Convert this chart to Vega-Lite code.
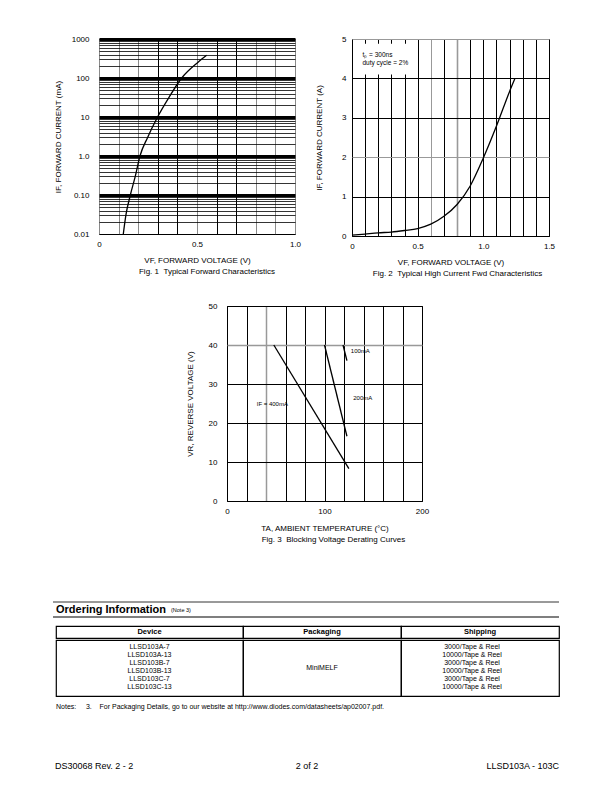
{
  "$schema": "https://vega.github.io/schema/vega-lite/v6.json",
  "background": "white",
  "padding": {"left": 52, "top": 34, "right": 10, "bottom": 10},
  "spacing": 0,
  "config": {
    "font": "Liberation Sans",
    "view": {"stroke": null},
    "concat": {"spacing": 0},
    "axis": {"labelFont": "Liberation Sans", "titleFont": "Liberation Sans", "labelFontSize": 8, "titleFontSize": 8, "titleFontWeight": "normal", "labelColor": "#000", "titleColor": "#000", "ticks": false, "domain": false, "grid": true, "gridColor": "#000", "gridOpacity": 1, "gridWidth": 1, "labelOverlap": false, "labelFlush": false, "labelBound": false},
    "title": {"font": "Liberation Sans", "fontSize": 8, "fontWeight": "normal", "color": "#000"},
    "text": {"font": "Liberation Sans", "color": "#000"}
  },
  "datasets": {
    "fig1": [
      {"vf": 0.124, "if_ma": 0.01},
      {"vf": 0.137, "if_ma": 0.03},
      {"vf": 0.16, "if_ma": 0.1},
      {"vf": 0.185, "if_ma": 0.3},
      {"vf": 0.209, "if_ma": 1},
      {"vf": 0.248, "if_ma": 3},
      {"vf": 0.299, "if_ma": 10},
      {"vf": 0.354, "if_ma": 30},
      {"vf": 0.422, "if_ma": 100},
      {"vf": 0.504, "if_ma": 250},
      {"vf": 0.549, "if_ma": 381}
    ],
    "fig2": [
      {"vf": 0, "if_a": 0.02},
      {"vf": 0.1, "if_a": 0.05},
      {"vf": 0.2, "if_a": 0.08},
      {"vf": 0.3, "if_a": 0.1},
      {"vf": 0.4, "if_a": 0.14},
      {"vf": 0.5, "if_a": 0.19},
      {"vf": 0.6, "if_a": 0.3},
      {"vf": 0.7, "if_a": 0.5},
      {"vf": 0.8, "if_a": 0.8},
      {"vf": 0.9, "if_a": 1.27},
      {"vf": 1.0, "if_a": 1.98},
      {"vf": 1.1, "if_a": 2.79},
      {"vf": 1.2, "if_a": 3.67},
      {"vf": 1.24, "if_a": 3.99}
    ],
    "fig2notes": [
      {"vf": 0.08, "if_a": 4.6, "note": "t\u209a = 300ns"},
      {"vf": 0.08, "if_a": 4.4, "note": "duty cycle = 2%"}
    ],
    "fig3": [
      {"ta": 48, "vr": 40, "current": "400mA"},
      {"ta": 125, "vr": 8.3, "current": "400mA"},
      {"ta": 100, "vr": 40, "current": "200mA"},
      {"ta": 123, "vr": 16.6, "current": "200mA"},
      {"ta": 119, "vr": 40, "current": "100mA"},
      {"ta": 123, "vr": 36, "current": "100mA"}
    ],
    "fig3labels": [
      {"ta": 127, "vr": 38.4, "label": "100mA"},
      {"ta": 129.5, "vr": 26.5, "label": "200mA"},
      {"ta": 30.5, "vr": 24.9, "label": "IF = 400mA"}
    ],
    "devices": [
      {"row": 1, "device": "LLSD103A-7", "shipping": "3000/Tape & Reel"},
      {"row": 2, "device": "LLSD103A-13", "shipping": "10000/Tape & Reel"},
      {"row": 3, "device": "LLSD103B-7", "shipping": "3000/Tape & Reel"},
      {"row": 4, "device": "LLSD103B-13", "shipping": "10000/Tape & Reel"},
      {"row": 5, "device": "LLSD103C-7", "shipping": "3000/Tape & Reel"},
      {"row": 6, "device": "LLSD103C-13", "shipping": "10000/Tape & Reel"}
    ],
    "footer": [
      {"slot": "left", "text": "DS30068 Rev. 2 - 2"},
      {"slot": "center", "text": "2 of 2"},
      {"slot": "right", "text": "LLSD103A - 103C"}
    ],
    "blank": [{}],
    "none": []
  },
  "vconcat": [
    {
      "bounds": "flush",
      "spacing": 0,
      "hconcat": [
        {"width": 46, "height": 1, "data": {"name": "none"}, "mark": {"type": "text", "text": ""}, "encoding": {}},
        {
          "width": 196,
          "height": 195,
          "view": {"stroke": "#000", "strokeWidth": 1},
          "title": {"text": "Fig. 1\u00a0\u00a0Typical Forward Characteristics", "orient": "bottom", "anchor": "middle", "frame": "group", "offset": 4, "dx": 10},
          "data": {"name": "fig1"},
          "mark": {"type": "line", "color": "#000", "strokeWidth": 1.3, "interpolate": "monotone"},
          "encoding": {
            "x": {
              "field": "vf", "type": "quantitative",
              "scale": {"domain": [0, 1], "nice": false, "zero": false},
              "axis": {
                "values": [0, 0.1, 0.2, 0.3, 0.4, 0.5, 0.6, 0.7, 0.8, 0.9, 1],
                "labelExpr": "datum.value == 0 ? '0' : datum.value == 0.5 ? '0.5' : datum.value == 1 ? '1.0' : ''",
                "labelPadding": 6,
                "title": "VF, FORWARD VOLTAGE (V)",
                "titlePadding": 8,
                "gridColor": {"condition": {"test": "datum.value == 0.3 || datum.value == 0.4 || datum.value == 0.6 || datum.value == 0.7", "value": "#000"}, "value": "#8a8a8a"},
                "gridWidth": 1
              }
            },
            "y": {
              "field": "if_ma", "type": "quantitative",
              "scale": {"type": "log", "domain": [0.01, 1000], "nice": false},
              "axis": {
                "values": [0.01, 0.02, 0.03, 0.04, 0.05, 0.06, 0.07, 0.08, 0.09, 0.1, 0.2, 0.3, 0.4, 0.5, 0.6, 0.7, 0.8, 0.9, 1, 2, 3, 4, 5, 6, 7, 8, 9, 10, 20, 30, 40, 50, 60, 70, 80, 90, 100, 200, 300, 400, 500, 600, 700, 800, 900, 1000],
                "labelExpr": "datum.value == 1000 ? '1000' : datum.value == 100 ? '100' : datum.value == 10 ? '10' : datum.value == 1 ? '1.0' : datum.value == 0.1 ? '0.10' : datum.value == 0.01 ? '0.01' : ''",
                "labelPadding": 10,
                "title": "IF, FORWARD CURRENT (mA)",
                "titlePadding": 9,
                "gridWidth": {"condition": {"test": "datum.value == 0.1 || datum.value == 1 || datum.value == 10 || datum.value == 100 || datum.value == 1000", "value": 3}, "value": 0.8}
              }
            }
          }
        },
        {"width": 57, "height": 1, "data": {"name": "none"}, "mark": {"type": "text", "text": ""}, "encoding": {}},
        {
          "width": 197,
          "height": 197,
          "view": {"stroke": "#000", "strokeWidth": 1},
          "title": {"text": "Fig. 2\u00a0\u00a0Typical High Current Fwd Characteristics", "orient": "bottom", "anchor": "middle", "frame": "group", "offset": 4, "dx": 7},
          "encoding": {
            "x": {
              "field": "vf", "type": "quantitative",
              "scale": {"domain": [0, 1.5], "nice": false, "zero": false},
              "axis": {
                "values": [0, 0.1, 0.2, 0.3, 0.4, 0.5, 0.6, 0.7, 0.8, 0.9, 1, 1.1, 1.2, 1.3, 1.4, 1.5],
                "labelExpr": "datum.value == 0 ? '0' : datum.value == 0.5 ? '0.5' : datum.value == 1 ? '1.0' : datum.value == 1.5 ? '1.5' : ''",
                "labelPadding": 6,
                "title": "VF, FORWARD VOLTAGE (V)",
                "titlePadding": 8,
                "gridColor": {"condition": {"test": "datum.value == 0.6 || datum.value == 0.8", "value": "#999"}, "value": "#000"},
                "gridWidth": {"condition": {"test": "datum.value == 0.8", "value": 1.6}, "value": 1}
              }
            },
            "y": {
              "field": "if_a", "type": "quantitative",
              "scale": {"domain": [0, 5], "nice": false},
              "axis": {
                "values": [0, 1, 2, 3, 4, 5],
                "labelPadding": 6,
                "title": "IF, FORWARD CURRENT (A)",
                "titlePadding": 18,
                "gridColor": {"condition": {"test": "datum.value == 2 || datum.value == 5", "value": "#999"}, "value": "#000"}
              }
            }
          },
          "layer": [
            {
              "data": {"name": "fig2"},
              "mark": {"type": "line", "color": "#000", "strokeWidth": 1.3, "interpolate": "monotone"}
            },
            {
              "data": {"values": [{"vf": 0.02, "vf_end": 0.46, "if_a": 4.1, "if_end": 4.88}]},
              "mark": {"type": "rect", "color": "white"},
              "encoding": {"x2": {"field": "vf_end"}, "y2": {"field": "if_end"}}
            },
            {
              "data": {"name": "fig2notes"},
              "mark": {"type": "text", "fontSize": 6.5, "align": "left", "baseline": "middle"},
              "encoding": {"text": {"field": "note"}}
            }
          ]
        }
      ]
    },
    {"width": 1, "height": 22, "view": {"fill": "white"}, "data": {"name": "none"}, "mark": {"type": "text", "text": ""}, "encoding": {}},
    {
      "bounds": "flush",
      "spacing": 0,
      "hconcat": [
        {"width": 174, "height": 1, "data": {"name": "none"}, "mark": {"type": "text", "text": ""}, "encoding": {}},
        {
          "width": 195,
          "height": 195,
          "view": {"stroke": "#000", "strokeWidth": 1},
          "title": {"text": "Fig. 3\u00a0\u00a0Blocking Voltage Derating Curves", "orient": "bottom", "anchor": "middle", "frame": "group", "offset": 4, "dx": 9},
          "encoding": {
            "x": {
              "field": "ta", "type": "quantitative",
              "scale": {"domain": [0, 200], "nice": false},
              "axis": {
                "values": [0, 20, 40, 60, 80, 100, 120, 140, 160, 180, 200],
                "labelExpr": "datum.value % 100 == 0 ? datum.label : ''",
                "labelPadding": 6,
                "title": "TA, AMBIENT TEMPERATURE (°C)",
                "titlePadding": 9,
                "gridColor": {"condition": {"test": "datum.value == 40", "value": "#999"}, "value": "#000"},
                "gridWidth": {"condition": {"test": "datum.value == 40", "value": 1.5}, "value": 1}
              }
            },
            "y": {
              "field": "vr", "type": "quantitative",
              "scale": {"domain": [0, 50], "nice": false},
              "axis": {
                "values": [0, 10, 20, 30, 40, 50],
                "labelPadding": 10,
                "title": "VR, REVERSE VOLTAGE (V)",
                "titlePadding": 14,
                "gridColor": {"condition": {"test": "datum.value == 40", "value": "#999"}, "value": "#000"},
                "gridWidth": {"condition": {"test": "datum.value == 40", "value": 1.5}, "value": 1}
              }
            }
          },
          "layer": [
            {
              "data": {"name": "fig3"},
              "mark": {"type": "line", "color": "#000", "strokeWidth": 1.3},
              "encoding": {"detail": {"field": "current", "type": "nominal"}}
            },
            {
              "data": {"name": "fig3labels"},
              "mark": {"type": "text", "fontSize": 6, "align": "left", "baseline": "middle"},
              "encoding": {"text": {"field": "label"}}
            }
          ]
        }
      ]
    },
    {"width": 1, "height": 56, "view": {"fill": "white"}, "data": {"name": "none"}, "mark": {"type": "text", "text": ""}, "encoding": {}},
    {
      "width": 506,
      "height": 15,
      "data": {"name": "blank"},
      "layer": [
        {"mark": {"type": "rule", "strokeWidth": 0.8, "color": "#000"}, "encoding": {"y": {"value": 0}}},
        {"mark": {"type": "rule", "strokeWidth": 1.2, "color": "#000"}, "encoding": {"y": {"value": "height"}}},
        {"mark": {"type": "text", "text": "Ordering Information", "fontWeight": "bold", "fontSize": 11, "align": "left", "baseline": "middle", "x": 3}, "encoding": {"y": {"datum": "mid", "type": "nominal", "scale": {"type": "point", "padding": 0.5}, "axis": null}}},
        {"mark": {"type": "text", "text": "(Note 3)", "fontSize": 5.5, "align": "left", "baseline": "middle", "x": 118}, "encoding": {"y": {"datum": "mid", "type": "nominal", "scale": {"type": "point", "padding": 0.5}, "axis": null}}}
      ]
    },
    {"width": 1, "height": 7, "view": {"fill": "white"}, "data": {"name": "none"}, "mark": {"type": "text", "text": ""}, "encoding": {}},
    {
      "bounds": "flush",
      "spacing": 0,
      "hconcat": [
        {"width": 3, "height": 1, "data": {"name": "none"}, "mark": {"type": "text", "text": ""}, "encoding": {}},
        {"width": 187, "height": 12, "view": {"stroke": "#000", "strokeWidth": 1.2}, "data": {"values": [{"label": "Device"}]}, "mark": {"type": "text", "fontWeight": "bold", "fontSize": 7.5, "align": "center", "baseline": "middle"}, "encoding": {"x": {"field": "label", "type": "nominal", "scale": {"type": "point", "padding": 0.5}, "axis": null}, "y": {"field": "label", "type": "nominal", "scale": {"type": "point", "padding": 0.5}, "axis": null}, "text": {"field": "label"}}},
        {"width": 158, "height": 12, "view": {"stroke": "#000", "strokeWidth": 1.2}, "data": {"values": [{"label": "Packaging"}]}, "mark": {"type": "text", "fontWeight": "bold", "fontSize": 7.5, "align": "center", "baseline": "middle"}, "encoding": {"x": {"field": "label", "type": "nominal", "scale": {"type": "point", "padding": 0.5}, "axis": null}, "y": {"field": "label", "type": "nominal", "scale": {"type": "point", "padding": 0.5}, "axis": null}, "text": {"field": "label"}}},
        {"width": 158, "height": 12, "view": {"stroke": "#000", "strokeWidth": 1.2}, "data": {"values": [{"label": "Shipping"}]}, "mark": {"type": "text", "fontWeight": "bold", "fontSize": 7.5, "align": "center", "baseline": "middle"}, "encoding": {"x": {"field": "label", "type": "nominal", "scale": {"type": "point", "padding": 0.5}, "axis": null}, "y": {"field": "label", "type": "nominal", "scale": {"type": "point", "padding": 0.5}, "axis": null}, "text": {"field": "label"}}}
      ]
    },
    {
      "bounds": "flush",
      "spacing": 0,
      "hconcat": [
        {"width": 3, "height": 1, "data": {"name": "none"}, "mark": {"type": "text", "text": ""}, "encoding": {}},
        {
          "width": 187, "height": 56,
          "view": {"stroke": "#000", "strokeWidth": 1.2},
          "data": {"name": "devices"},
          "mark": {"type": "text", "fontSize": 7, "align": "center", "baseline": "middle"},
          "encoding": {
            "x": {"datum": "Device", "type": "nominal", "scale": {"type": "point", "padding": 0.5}, "axis": null},
            "y": {"field": "row", "type": "ordinal", "scale": {"type": "point", "padding": 1.3, "align": 0.45}, "axis": null},
            "text": {"field": "device"}
          }
        },
        {
          "width": 158, "height": 56,
          "view": {"stroke": "#000", "strokeWidth": 1.2},
          "data": {"values": [{"packaging": "MiniMELF"}]},
          "mark": {"type": "text", "fontSize": 7, "align": "center", "baseline": "middle"},
          "encoding": {
            "x": {"field": "packaging", "type": "nominal", "scale": {"type": "point", "padding": 0.5}, "axis": null},
            "y": {"field": "packaging", "type": "nominal", "scale": {"type": "point", "padding": 0.5}, "axis": null},
            "text": {"field": "packaging"}
          }
        },
        {
          "width": 158, "height": 56,
          "view": {"stroke": "#000", "strokeWidth": 1.2},
          "data": {"name": "devices"},
          "mark": {"type": "text", "fontSize": 7, "align": "center", "baseline": "middle", "dx": -8},
          "encoding": {
            "x": {"datum": "Shipping", "type": "nominal", "scale": {"type": "point", "padding": 0.5}, "axis": null},
            "y": {"field": "row", "type": "ordinal", "scale": {"type": "point", "padding": 1.3, "align": 0.45}, "axis": null},
            "text": {"field": "shipping"}
          }
        }
      ]
    },
    {
      "bounds": "flush",
      "spacing": 0,
      "hconcat": [
        {"width": 3, "height": 1, "data": {"name": "none"}, "mark": {"type": "text", "text": ""}, "encoding": {}},
        {"width": 503, "height": 20, "view": {"fill": "white"}, "data": {"name": "blank"}, "mark": {"type": "text", "text": "Notes:\u00a0\u00a0\u00a0\u00a0\u00a03.\u00a0\u00a0\u00a0\u00a0For Packaging Details, go to our website at http://www.diodes.com/datasheets/ap02007.pdf.", "fontSize": 7, "align": "left", "baseline": "middle", "x": 0}, "encoding": {"y": {"datum": "mid", "type": "nominal", "scale": {"type": "point", "padding": 0.5}, "axis": null}}}
      ]
    },
    {"width": 1, "height": 44, "view": {"fill": "white"}, "data": {"name": "none"}, "mark": {"type": "text", "text": ""}, "encoding": {}},
    {
      "bounds": "flush",
      "spacing": 0,
      "hconcat": [
        {"width": 2, "height": 1, "data": {"name": "none"}, "mark": {"type": "text", "text": ""}, "encoding": {}},
        {
          "width": 504, "height": 10,
          "view": {"fill": "white"},
          "data": {"name": "footer"},
          "mark": {"type": "text", "fontSize": 9, "baseline": "middle", "align": {"expr": "datum.slot == 'left' ? 'left' : datum.slot == 'right' ? 'right' : 'center'"}},
          "encoding": {
            "x": {"field": "slot", "type": "nominal", "scale": {"type": "point", "domain": ["left", "center", "right"], "padding": 0}, "axis": null},
            "y": {"datum": "mid", "type": "nominal", "scale": {"type": "point", "padding": 0.5}, "axis": null},
            "text": {"field": "text"}
          }
        }
      ]
    }
  ]
}
